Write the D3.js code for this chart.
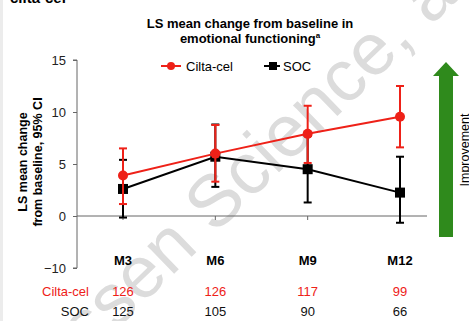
<!DOCTYPE html>
<html>
<head>
<meta charset="utf-8">
<script src="https://cdn.jsdelivr.net/npm/d3@7"></script>
<style>
  body { margin: 0; background: #fff; }
  svg { display: block; font-family: "Liberation Sans", Arial, sans-serif; }
</style>
</head>
<body>
<div id="chart"></div>
<script>
(function() {
    var width = 469,
        height = 321;

    // data
    var months = ["M3", "M6", "M9", "M12"];
    var ciltaMean = [3.9, 6.0, 7.9, 9.55];
    var ciltaLow = [1.15, 3.3, 5.1, 6.6];
    var ciltaHigh = [6.5, 8.75, 10.6, 12.5];
    var socMean = [2.6, 5.7, 4.5, 2.25];
    var socLow = [-0.3, 2.8, 1.3, -1.3];
    var socHigh = [5.4, 8.8, 7.7, 5.7];
    var ciltaN = [126, 126, 117, 99];
    var socN = [125, 105, 90, 66];
    var yTicks = [15, 10, 5, 0, -10];

    var red = "#ee2118",
        green = "#2f8a1c";

    var svg = d3.select("#chart")
        .append("svg")
        .attr("width", width)
        .attr("height", height);

    // watermark
    svg.append("text")
        .attr("transform", "translate(4,438) rotate(-44)")
        .attr("font-size", 73)
        .attr("fill", "#dcdcdc")
        .text("Janssen Science, a");

    // left frame strip and cut-off heading
    svg.append("rect").attr("x", 0).attr("y", 0).attr("width", 3).attr("height", height).attr("fill", "#ececec");
    svg.append("text")
        .attr("x", 10).attr("y", 3)
        .attr("font-size", 15).attr("font-weight", "bold")
        .text("cilta-cel");

    // broken y scale: 0..15 stretched, 0..-10 squeezed
    var y = d3.scaleLinear().domain([-10, 0, 15]).range([268, 216, 60]);
    var x = d3.scalePoint().domain(months).range([123, 400]);

    // title
    var title = svg.append("text")
        .attr("x", 250).attr("y", 28)
        .attr("text-anchor", "middle")
        .attr("font-size", 13).attr("font-weight", "bold");
    title.append("tspan").attr("x", 250).text("LS mean change from baseline in");
    title.append("tspan").attr("x", 250).attr("dy", 15).text("emotional functioning");
    title.append("tspan").attr("font-size", 8).attr("dy", -5).text("a");

    // y axis
    var yAxis = svg.append("g")
        .attr("transform", "translate(77,0)")
        .call(d3.axisLeft(y).tickValues(yTicks).tickSize(4).tickPadding(7).tickFormat(function(d) {
            return d < 0 ? "\u221210" : d;
        }));
    yAxis.select(".domain").attr("stroke", "#666").attr("d", "M-4," + y(15) + "H0V" + y(-10) + "H-4");
    yAxis.selectAll(".tick line").attr("stroke", "#666");
    yAxis.selectAll(".tick text").attr("font-size", 13).attr("fill", "#222")
        .attr("font-family", "Liberation Sans, Arial, sans-serif");

    // y label
    var ylab = svg.append("text")
        .attr("transform", "translate(27,162) rotate(-90)")
        .attr("text-anchor", "middle")
        .attr("font-size", 12.5).attr("font-weight", "bold");
    ylab.append("tspan").attr("x", 0).text("LS mean change");
    ylab.append("tspan").attr("x", 0).attr("dy", 15).text("from baseline, 95% CI");

    // zero line with category ticks
    svg.append("line")
        .attr("x1", 77).attr("x2", 427)
        .attr("y1", y(0)).attr("y2", y(0))
        .attr("stroke", "#666");
    svg.selectAll(".xtick")
        .data(months)
        .enter()
        .append("line")
        .attr("class", "xtick")
        .attr("x1", function(d) { return x(d); })
        .attr("x2", function(d) { return x(d); })
        .attr("y1", y(0)).attr("y2", y(0) + 4)
        .attr("stroke", "#666");

    function drawSeries(mean, low, high, color, marker) {
        var pts = months.map(function(m, i) {
            return { m: m, v: mean[i], lo: low[i], hi: high[i] };
        });
        var g = svg.append("g");
        // error bars
        var eb = g.selectAll(".eb").data(pts).enter().append("g");
        eb.append("line")
            .attr("x1", function(d) { return x(d.m); })
            .attr("x2", function(d) { return x(d.m); })
            .attr("y1", function(d) { return y(d.lo); })
            .attr("y2", function(d) { return y(d.hi); })
            .attr("stroke", color).attr("stroke-width", 2);
        [ "lo", "hi" ].forEach(function(k) {
            eb.append("line")
                .attr("x1", function(d) { return x(d.m) - 4; })
                .attr("x2", function(d) { return x(d.m) + 4; })
                .attr("y1", function(d) { return y(d[k]); })
                .attr("y2", function(d) { return y(d[k]); })
                .attr("stroke", color).attr("stroke-width", 2);
        });
        g.append("path")
            .datum(pts)
            .attr("fill", "none")
            .attr("stroke", color)
            .attr("stroke-width", 2)
            .attr("d", d3.line().x(function(d) { return x(d.m); }).y(function(d) { return y(d.v); }));
        if (marker === "circle") {
            g.selectAll("circle").data(pts).enter().append("circle")
                .attr("cx", function(d) { return x(d.m); })
                .attr("cy", function(d) { return y(d.v); })
                .attr("r", 5).attr("fill", color);
        } else {
            g.selectAll("rect").data(pts).enter().append("rect")
                .attr("x", function(d) { return x(d.m) - 5; })
                .attr("y", function(d) { return y(d.v) - 5; })
                .attr("width", 10).attr("height", 10).attr("fill", color);
        }
    }

    drawSeries(socMean, socLow, socHigh, "#000", "square");
    drawSeries(ciltaMean, ciltaLow, ciltaHigh, red, "circle");

    // legend
    var lg = svg.append("g").attr("font-size", 13);
    lg.append("line").attr("x1", 161).attr("x2", 181).attr("y1", 66).attr("y2", 66).attr("stroke", red).attr("stroke-width", 2);
    lg.append("circle").attr("cx", 171).attr("cy", 66).attr("r", 4).attr("fill", red);
    lg.append("text").attr("x", 186).attr("y", 70.5).text("Cilta-cel");
    lg.append("line").attr("x1", 264).attr("x2", 280).attr("y1", 66).attr("y2", 66).attr("stroke", "#000").attr("stroke-width", 2);
    lg.append("rect").attr("x", 269).attr("y", 62).attr("width", 8).attr("height", 8).attr("fill", "#000");
    lg.append("text").attr("x", 283).attr("y", 70.5).text("SOC");

    // month labels and numbers at risk
    svg.selectAll(".mlab").data(months).enter().append("text")
        .attr("x", function(d) { return x(d); })
        .attr("y", 265)
        .attr("text-anchor", "middle")
        .attr("font-size", 13).attr("font-weight", "bold")
        .text(function(d) { return d; });
    svg.append("text").attr("x", 89).attr("y", 296).attr("text-anchor", "end")
        .attr("font-size", 13).attr("fill", red).text("Cilta-cel");
    svg.append("text").attr("x", 89).attr("y", 316).attr("text-anchor", "end")
        .attr("font-size", 13).attr("fill", "#111").text("SOC");
    svg.selectAll(".nc").data(ciltaN).enter().append("text")
        .attr("x", function(d, i) { return x(months[i]); })
        .attr("y", 296).attr("text-anchor", "middle")
        .attr("font-size", 13).attr("fill", red)
        .text(function(d) { return d; });
    svg.selectAll(".ns").data(socN).enter().append("text")
        .attr("x", function(d, i) { return x(months[i]); })
        .attr("y", 316).attr("text-anchor", "middle")
        .attr("font-size", 13).attr("fill", "#111")
        .text(function(d) { return d; });

    // improvement arrow
    svg.append("path")
        .attr("d", "M439,237V76H433L446,62L459,76H453V237Z")
        .attr("fill", green);
    svg.append("text")
        .attr("transform", "translate(469,150) rotate(-90)")
        .attr("text-anchor", "middle")
        .attr("font-size", 12.5)
        .text("Improvement");
})();
</script>
</body>
</html>
